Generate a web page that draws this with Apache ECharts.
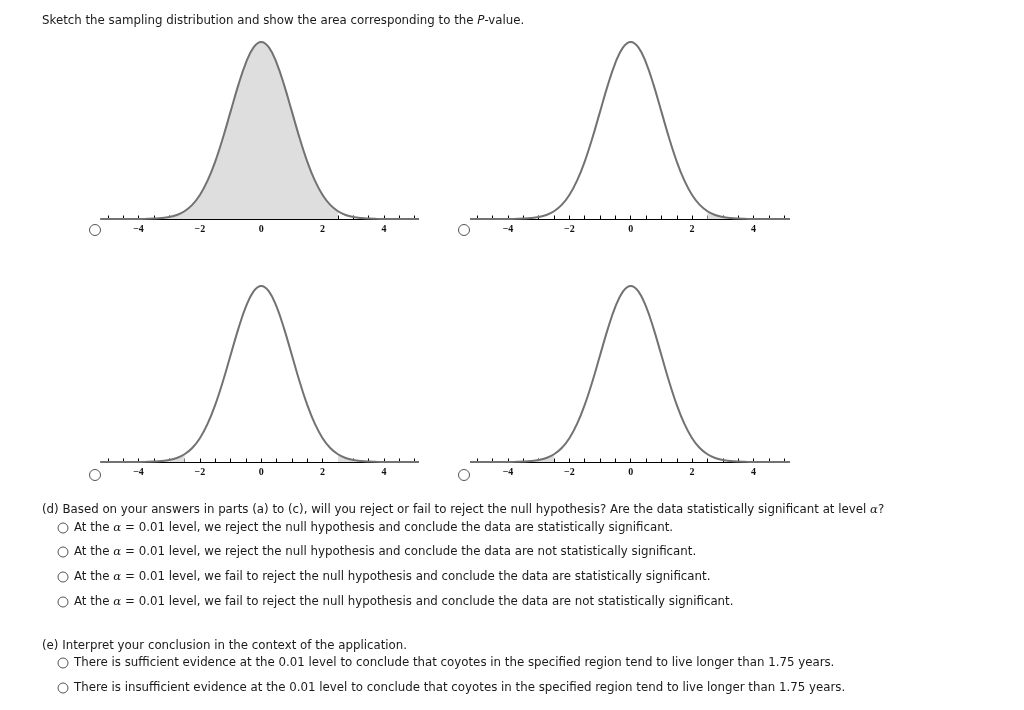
<!DOCTYPE html>
<html><head><meta charset="utf-8">
<script src="https://cdn.jsdelivr.net/npm/echarts@6/dist/echarts.min.js"></script>
<style>html,body{margin:0;padding:0;background:#fff}#c{width:1024px;height:710px}</style>
</head><body><div id="c"></div>
<script>
// z grid and density values (standard normal shape)
const zValues = [-5.25,-5,-4.75,-4.5,-4.25,-4,-3.75,-3.5,-3.25,-3,-2.75,-2.5,-2.25,-2,-1.75,-1.5,-1.25,-1,-0.75,-0.5,-0.25,0,
  0.25,0.5,0.75,1,1.25,1.5,1.75,2,2.25,2.5,2.75,3,3.25,3.5,3.75,4,4.25,4.5,4.75,5,5.25];
const density = [0,0,0,0,0,0.0001,0.0004,0.0009,0.0020,0.0044,0.0091,0.0175,0.0317,0.0540,0.0863,0.1295,0.1826,0.2420,0.3011,0.3521,0.3867,0.3989,
  0.3867,0.3521,0.3011,0.2420,0.1826,0.1295,0.0863,0.0540,0.0317,0.0175,0.0091,0.0044,0.0020,0.0009,0.0004,0.0001,0,0,0,0,0];
const cutoff = 2.5;
const tickValues = [-5,-4.5,-4,-3.5,-3,-2.5,-2,-1.5,-1,-0.5,0,0.5,1,1.5,2,2.5,3,3.5,4,4.5,5];
const tickLabels = [-4,-2,0,2,4];
// shading rules per panel: 'left' = z<=c, 'right' = z>=c, 'two' = |z|>=c, 'lower' = z<=-c
const panels = ['left','right','two','lower'];

const curve = zValues.map((z,i)=>[z,density[i]]);
function sub(pred){ return curve.filter(p=>pred(p[0])); }

const gridPos = [
  {left:101.7, top:42, width:316, height:177},
  {left:471.2, top:42, width:316, height:177},
  {left:101.7, top:286, width:316, height:176},
  {left:471.2, top:286, width:316, height:176}
];
const grids=[], xAxes=[], yAxes=[], series=[];
panels.forEach((type,k)=>{
  grids.push(Object.assign({},gridPos[k]));
  xAxes.push({type:'value',gridIndex:k,min:-5.2,max:5.1,
    axisLine:{show:true,onZero:false,lineStyle:{color:'#000',width:1.2}},
    axisTick:{show:true,inside:true,length:3.5,customValues:tickValues,lineStyle:{color:'#000'}},
    axisLabel:{show:true,customValues:tickLabels,margin:5,color:'#111',
      fontFamily:'Liberation Serif',fontWeight:'bold',fontSize:10,
      formatter:v=>String(v).replace('-','\u2212')},
    splitLine:{show:false}});
  yAxes.push({type:'value',gridIndex:k,min:0,max:0.3989,show:false});
  const areas=[];
  if(type==='left') areas.push(sub(z=>z<=cutoff));
  if(type==='right') areas.push(sub(z=>z>=cutoff));
  if(type==='two'){ areas.push(sub(z=>z<=-cutoff)); areas.push(sub(z=>z>=cutoff)); }
  if(type==='lower') areas.push(sub(z=>z<=-cutoff));
  areas.forEach(d=>series.push({type:'line',xAxisIndex:k,yAxisIndex:k,data:d,smooth:0.4,symbol:'none',
    lineStyle:{width:0},areaStyle:{color:'#dedede',opacity:1},silent:true,z:1}));
  series.push({type:'line',xAxisIndex:k,yAxisIndex:k,data:curve,smooth:0.4,symbol:'none',
    lineStyle:{color:'#727272',width:2},silent:true,z:3});
});

const FS = 11.8;
const FONT = FS+'px "DejaVu Sans"';
const graphic = [];
function txt(x,y,text,rich){ graphic.push({type:'text',x:x,y:y,style:{text:text,font:FONT,fill:'#1a1a1a',verticalAlign:'middle',textVerticalAlign:'middle',rich:rich||{}}}); }
function radio(x,y,r){ graphic.push({type:'circle',shape:{cx:x,cy:y,r:r||5},style:{fill:'#fff',stroke:'#555',lineWidth:1}}); }
const richI = {i:{font:'italic '+FS+'px "DejaVu Serif"',fill:'#1a1a1a'}};
txt(42,21,'Sketch the sampling distribution and show the area corresponding to the {i|P}-value.',{i:{font:'italic '+FS+'px "DejaVu Sans"',fill:'#1a1a1a'}});
radio(95,230,5.5); radio(464,230,5.5); radio(95,475,5.5); radio(464,475,5.5);
txt(42,510,'(d) Based on your answers in parts (a) to (c), will you reject or fail to reject the null hypothesis? Are the data statistically significant at level {i|α}?',richI);
const dOpts = [
 'At the {i|α} = 0.01 level, we reject the null hypothesis and conclude the data are statistically significant.',
 'At the {i|α} = 0.01 level, we reject the null hypothesis and conclude the data are not statistically significant.',
 'At the {i|α} = 0.01 level, we fail to reject the null hypothesis and conclude the data are statistically significant.',
 'At the {i|α} = 0.01 level, we fail to reject the null hypothesis and conclude the data are not statistically significant.'];
const dY = [528,552,577,602];
dOpts.forEach((t,i)=>{ radio(63,dY[i],5); txt(74,dY[i],t,richI); });
txt(42,646,'(e) Interpret your conclusion in the context of the application.');
const eOpts = [
 'There is sufficient evidence at the 0.01 level to conclude that coyotes in the specified region tend to live longer than 1.75 years.',
 'There is insufficient evidence at the 0.01 level to conclude that coyotes in the specified region tend to live longer than 1.75 years.'];
const eY=[663,688];
eOpts.forEach((t,i)=>{ radio(63,eY[i],5); txt(74,eY[i],t); });

const chart = echarts.init(document.getElementById('c'),null,{renderer:'canvas'});
chart.setOption({animation:false,backgroundColor:'#fff',grid:grids,xAxis:xAxes,yAxis:yAxes,series:series,graphic:graphic});
</script></body></html>
